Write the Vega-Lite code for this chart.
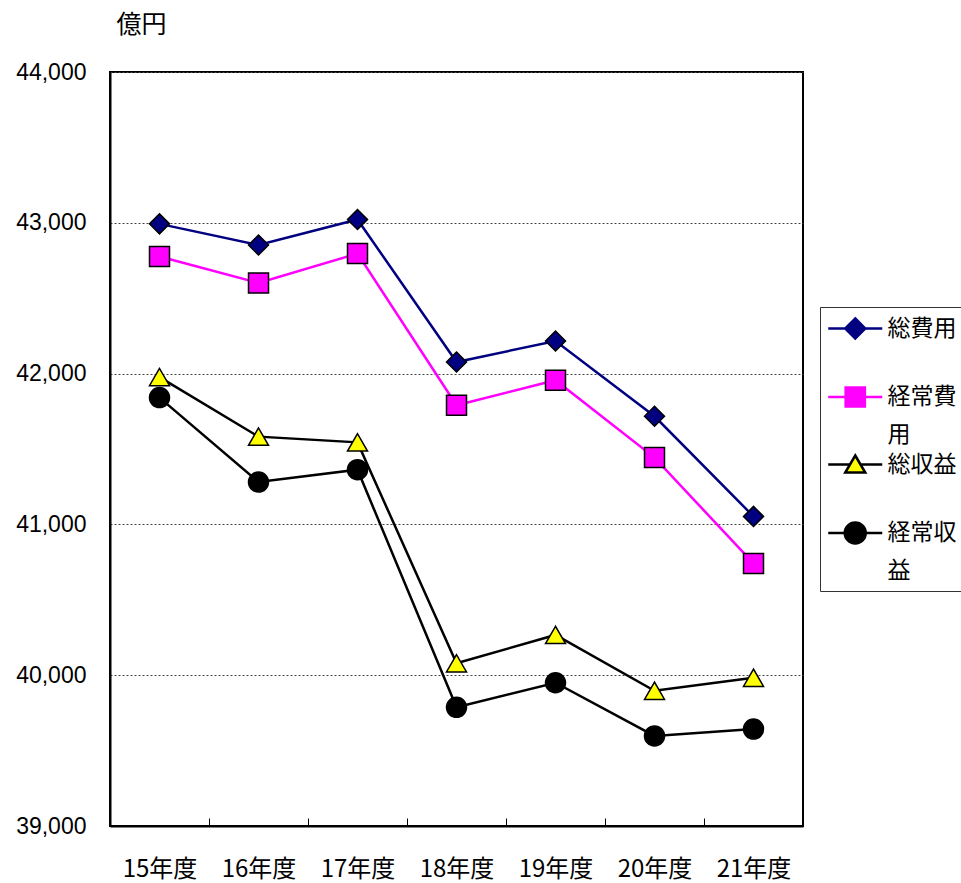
{
  "$schema": "https://vega.github.io/schema/vega-lite/v6.json",
  "width": 693,
  "height": 754,
  "autosize": {"type": "none"},
  "padding": {"left": 110, "top": 72, "right": 158, "bottom": 57},
  "background": "white",
  "config": {
    "font": "Noto Sans CJK JP",
    "view": {"stroke": "black", "strokeWidth": 2},
    "style": {"guide-label": {"lineHeight": 38}},
    "legend": {
      "orient": "none",
      "legendX": 710,
      "legendY": 235,
      "title": null,
      "symbolSize": 576,
      "symbolStrokeWidth": 2.5,
      "labelFontSize": 23,
      "labelColor": "black",
      "labelBaseline": "middle",
      "labelOffset": 32.5,
      "rowPadding": 2.5,
      "padding": 8,
      "strokeColor": "#333333"
    }
  },
  "data": {
    "values": [
      {"year": "15年度", "series": "総費用", "value": 42993},
      {"year": "16年度", "series": "総費用", "value": 42853},
      {"year": "17年度", "series": "総費用", "value": 43022},
      {"year": "18年度", "series": "総費用", "value": 42077},
      {"year": "19年度", "series": "総費用", "value": 42216},
      {"year": "20年度", "series": "総費用", "value": 41717},
      {"year": "21年度", "series": "総費用", "value": 41053},
      {"year": "15年度", "series": "経常費用", "value": 42777},
      {"year": "16年度", "series": "経常費用", "value": 42601},
      {"year": "17年度", "series": "経常費用", "value": 42796},
      {"year": "18年度", "series": "経常費用", "value": 41790},
      {"year": "19年度", "series": "経常費用", "value": 41956},
      {"year": "20年度", "series": "経常費用", "value": 41443},
      {"year": "21年度", "series": "経常費用", "value": 40741},
      {"year": "15年度", "series": "総収益", "value": 41977},
      {"year": "16年度", "series": "総収益", "value": 41582},
      {"year": "17年度", "series": "総収益", "value": 41544},
      {"year": "18年度", "series": "総収益", "value": 40079},
      {"year": "19年度", "series": "総収益", "value": 40267},
      {"year": "20年度", "series": "総収益", "value": 39897},
      {"year": "21年度", "series": "総収益", "value": 39983},
      {"year": "15年度", "series": "経常収益", "value": 41841},
      {"year": "16年度", "series": "経常収益", "value": 41281},
      {"year": "17年度", "series": "経常収益", "value": 41363},
      {"year": "18年度", "series": "経常収益", "value": 39787},
      {"year": "19年度", "series": "経常収益", "value": 39950},
      {"year": "20年度", "series": "経常収益", "value": 39597},
      {"year": "21年度", "series": "経常収益", "value": 39643}
    ]
  },
  "encoding": {
    "x": {
      "field": "year",
      "type": "nominal",
      "sort": null,
      "scale": {"paddingInner": 0, "paddingOuter": 0},
      "axis": {
        "title": null,
        "labelAngle": 0,
        "tickBand": "extent",
        "tickSize": -8,
        "tickColor": "black",
        "domainColor": "black",
        "domainWidth": 2,
        "labelFontSize": 24,
        "labelColor": "black",
        "labelPadding": 39
      }
    },
    "y": {
      "field": "value",
      "type": "quantitative",
      "scale": {"domain": [39000, 44000], "nice": false, "zero": false},
      "axis": {
        "values": [39000, 40000, 41000, 42000, 43000, 44000],
        "format": ",.0f",
        "title": "億円",
        "titleAngle": 0,
        "titleX": 31,
        "titleY": -48,
        "titleAlign": "center",
        "titleBaseline": "middle",
        "titleFontSize": 25,
        "titleFontWeight": "normal",
        "titleColor": "black",
        "labelFont": "Liberation Sans",
        "labelFontSize": 23,
        "labelColor": "black",
        "labelPadding": 24,
        "ticks": false,
        "domainColor": "black",
        "domainWidth": 2,
        "gridColor": "#444444",
        "gridDash": [2, 2],
        "gridWidth": 1
      }
    }
  },
  "layer": [
    {
      "mark": {"type": "line", "strokeWidth": 2.5},
      "encoding": {
        "stroke": {
          "field": "series",
          "type": "nominal",
          "scale": {
            "domain": ["総費用", "経常費用", "総収益", "経常収益"],
            "range": ["#000080", "#FF00FF", "#000000", "#000000"]
          },
          "legend": null
        }
      }
    },
    {
      "mark": {"type": "point", "filled": true, "size": 400, "stroke": "black", "strokeWidth": 1.5, "opacity": 1},
      "encoding": {
        "shape": {
          "field": "series",
          "type": "nominal",
          "scale": {
            "domain": ["総費用", "経常費用", "総収益", "経常収益"],
            "range": ["diamond", "square", "triangle-up", "circle"]
          },
          "legend": null
        },
        "fill": {
          "field": "series",
          "type": "nominal",
          "scale": {
            "domain": ["総費用", "経常費用", "総収益", "経常収益"],
            "range": ["#000080", "#FF00FF", "#FFFF00", "#000000"]
          },
          "legend": null
        }
      }
    },
    {
      "transform": [{"filter": "false"}],
      "mark": {"type": "point", "filled": true, "size": 576, "strokeWidth": 2.5, "opacity": 1},
      "encoding": {
        "shape": {
          "field": "series",
          "type": "nominal",
          "scale": {
            "domain": ["総費用", "経常費用", "総収益", "経常収益"],
            "range": [
              "M-1.104,0H0.313M1.979,0H3.396M1.146,-0.833L1.979,0L1.146,0.833L0.313,0Z",
              "M-1.104,0H0.346M1.946,0H3.396M0.346,-0.8H1.946V0.8H0.346Z",
              "M-1.104,0H0.706M1.586,0H3.396M1.146,-0.75L1.979,0.667L0.313,0.667Z",
              "M-1.104,0H0.271M2.021,0H3.396M2.021,0A0.875,0.875 0 1 1 0.271,0A0.875,0.875 0 1 1 2.021,0Z"
            ]
          },
          "legend": {
            "labelExpr": "datum.label == '経常費用' ? ['経常費', '用'] : datum.label == '経常収益' ? ['経常収', '益'] : [datum.label, '']"
          }
        },
        "fill": {
          "field": "series",
          "type": "nominal",
          "scale": {
            "domain": ["総費用", "経常費用", "総収益", "経常収益"],
            "range": ["#000080", "#FF00FF", "#FFFF00", "#000000"]
          },
          "legend": {
            "labelExpr": "datum.label == '経常費用' ? ['経常費', '用'] : datum.label == '経常収益' ? ['経常収', '益'] : [datum.label, '']"
          }
        },
        "stroke": {
          "field": "series",
          "type": "nominal",
          "scale": {
            "domain": ["総費用", "経常費用", "総収益", "経常収益"],
            "range": ["#000080", "#FF00FF", "#000000", "#000000"]
          },
          "legend": {
            "labelExpr": "datum.label == '経常費用' ? ['経常費', '用'] : datum.label == '経常収益' ? ['経常収', '益'] : [datum.label, '']"
          }
        }
      }
    }
  ],
  "resolve": {"scale": {"shape": "independent", "fill": "independent", "stroke": "independent"}}
}
